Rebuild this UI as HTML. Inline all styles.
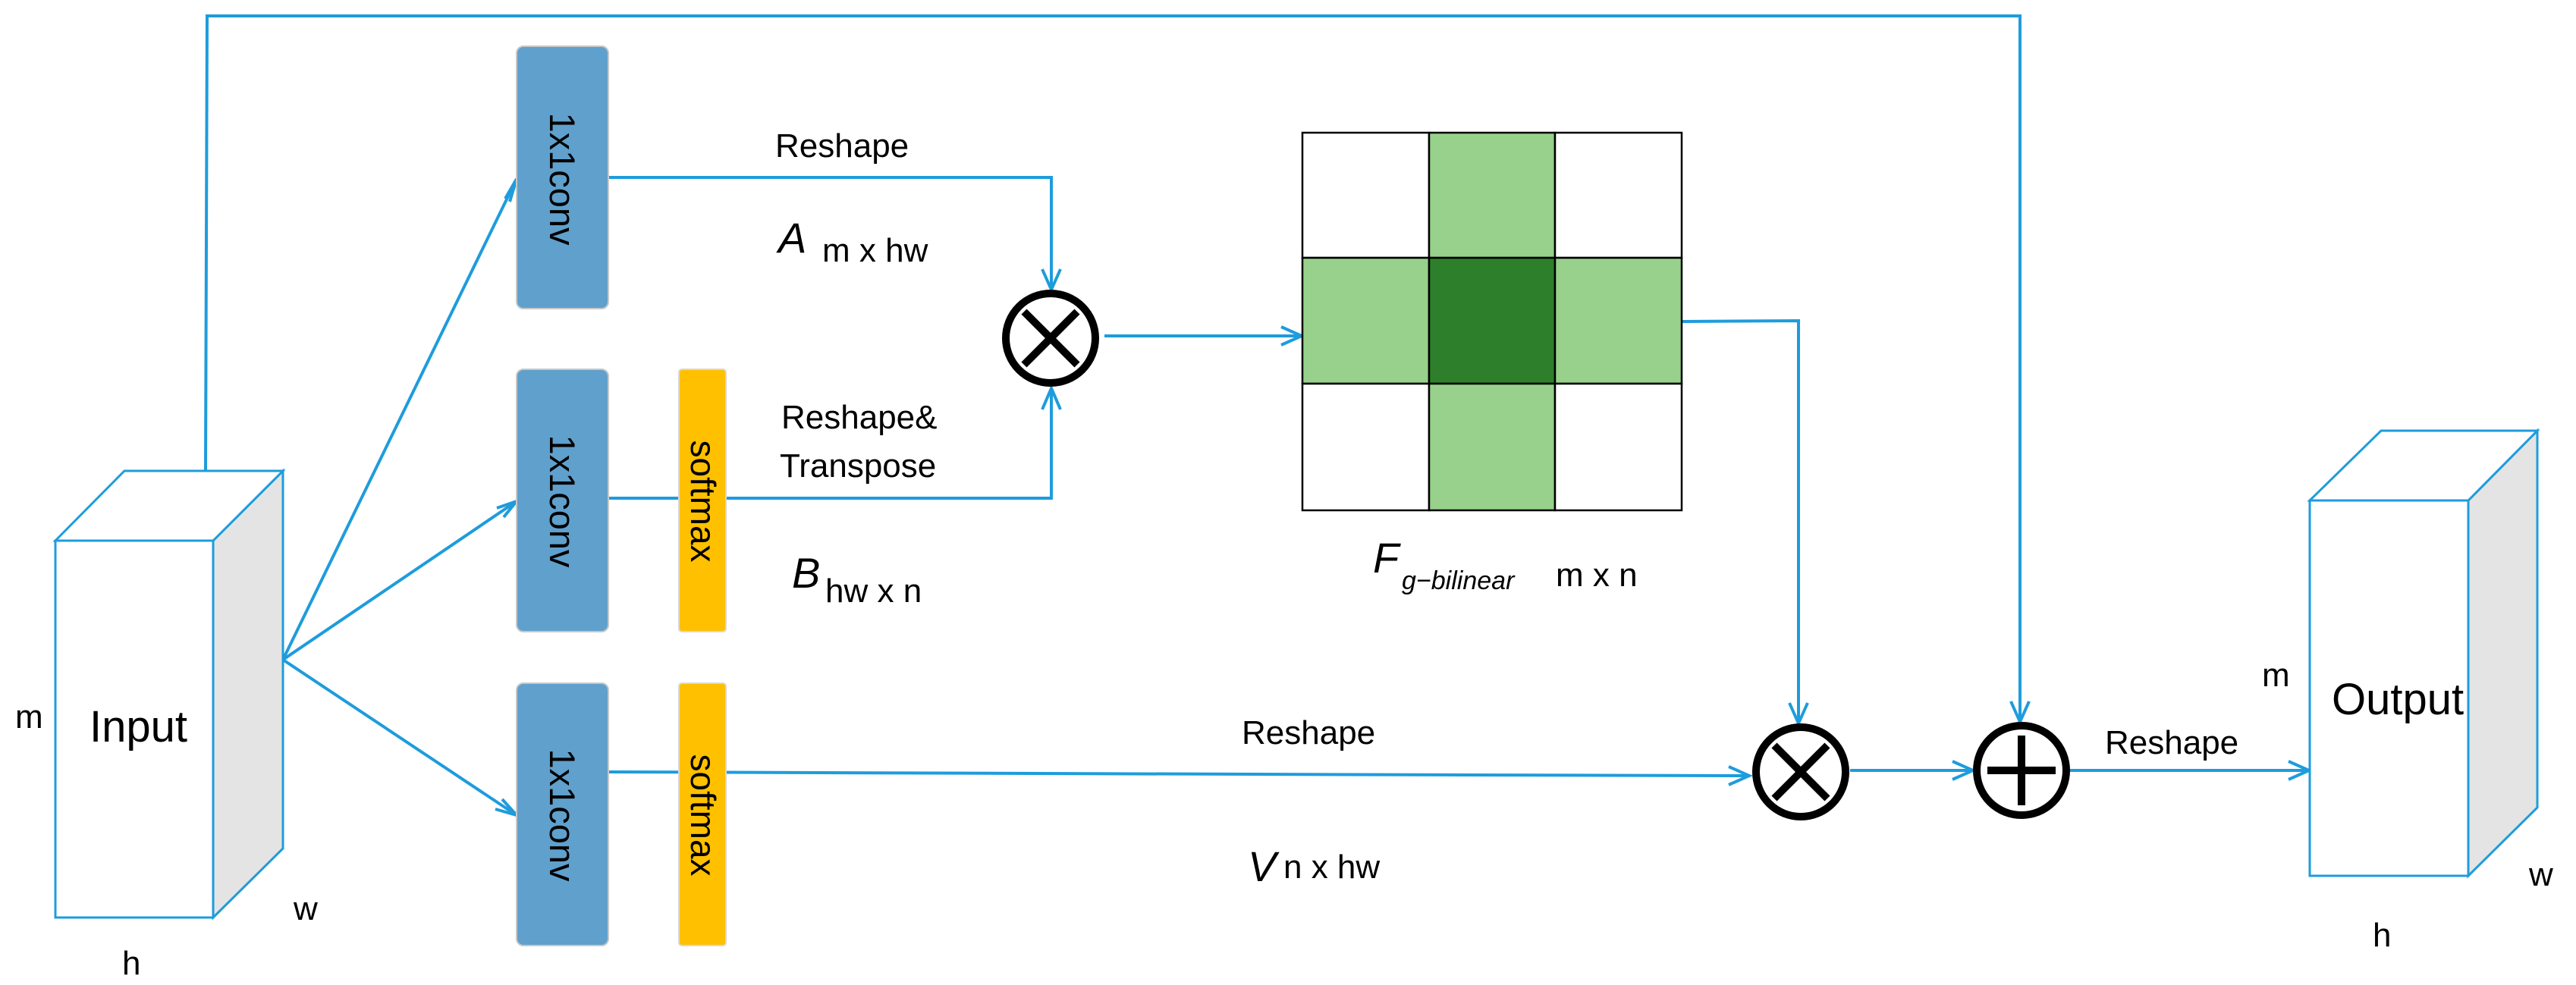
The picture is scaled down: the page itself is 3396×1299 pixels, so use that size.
<!DOCTYPE html>
<html><head><meta charset="utf-8"><style>
html,body{margin:0;padding:0;background:#fff;}
svg{display:block;}
text{font-family:"Liberation Sans",sans-serif;fill:#000;}
</style></head><body>
<svg width="3396" height="1299" viewBox="0 0 3396 1299" xmlns="http://www.w3.org/2000/svg">
<g fill="none" stroke="#1e9cdc" stroke-width="4">
  <!-- top skip line -->
  <polyline points="271,621 273,21 2663,21 2663,952"/>
  <!-- fan -->
  <line x1="373" y1="870" x2="681" y2="236"/>
  <line x1="373" y1="870" x2="681" y2="661"/>
  <line x1="373" y1="870" x2="681" y2="1075"/>
  <!-- conv1 to times -->
  <polyline points="802,234 1386,234 1386,382"/>
  <!-- conv2 to times -->
  <polyline points="802,657 1386,657 1386,512"/>
  <!-- times to grid -->
  <line x1="1456" y1="443" x2="1716" y2="443"/>
  <!-- grid to times2 -->
  <polyline points="2217,424 2371,423 2371,954"/>
  <!-- conv3 line -->
  <polyline points="802,1018 1930,1022 2306,1023"/>
  <line x1="2439" y1="1016" x2="2601" y2="1016"/>
  <line x1="2727" y1="1016" x2="3044" y2="1016"/>
  <!-- arrowheads -->
  <polyline points="666,262 681,236 672,266"/>
  <polyline points="655,670 681,661 664,682"/>
  <polyline points="662,1054 681,1075 653,1067"/>
  <polyline points="1374,355 1386,382 1398,355"/>
  <polyline points="1374,540 1386,512 1398,540"/>
  <polyline points="1689,431 1716,443 1689,455"/>
  <polyline points="2359,927 2371,954 2383,927"/>
  <polyline points="2651,925 2663,952 2675,925"/>
  <polyline points="2279,1011 2306,1023 2279,1035"/>
  <polyline points="2574,1004 2601,1016 2574,1028"/>
  <polyline points="3017,1004 3044,1016 3017,1028"/>
</g>
<!-- Input box -->
<g stroke="#1e9cdc" stroke-width="3">
  <polygon points="281,713 373,621 373,1119 281,1210" fill="#e4e4e4"/>
  <polygon points="73,713 164,621 373,621 281,713" fill="#fff"/>
  <rect x="73" y="713" width="208" height="497" fill="#fff"/>
</g>
<!-- Output box -->
<g stroke="#1e9cdc" stroke-width="3">
  <polygon points="3254,660 3345,568 3345,1065 3254,1155" fill="#e4e4e4"/>
  <polygon points="3045,660 3139,568 3345,568 3254,660" fill="#fff"/>
  <rect x="3045" y="660" width="209" height="495" fill="#fff"/>
</g>
<!-- conv boxes -->
<g fill="#5fa0cd" stroke="#c8c8c8" stroke-width="2">
  <rect x="681" y="61" width="121" height="346" rx="9"/>
  <rect x="681" y="487" width="121" height="346" rx="9"/>
  <rect x="681" y="901" width="121" height="346" rx="9"/>
</g>
<g fill="#ffc000" stroke="#d8d8d8" stroke-width="2">
  <rect x="895" y="487" width="62" height="346" rx="4"/>
  <rect x="895" y="901" width="62" height="346" rx="4"/>
</g>
<g font-size="47">
  <text transform="translate(725,236) rotate(90)" text-anchor="middle">1x1conv</text>
  <text transform="translate(725,661) rotate(90)" text-anchor="middle">1x1conv</text>
  <text transform="translate(725,1075) rotate(90)" text-anchor="middle">1x1conv</text>
  <text transform="translate(911,661) rotate(90)" text-anchor="middle" font-size="46">softmax</text>
  <text transform="translate(911,1075) rotate(90)" text-anchor="middle" font-size="46">softmax</text>
</g>
<!-- grid -->
<g stroke="#000" stroke-width="2.5">
  <rect x="1717" y="175" width="167" height="165" fill="#fff"/>
  <rect x="1884" y="175" width="166" height="165" fill="#97d18b"/>
  <rect x="2050" y="175" width="167" height="165" fill="#fff"/>
  <rect x="1717" y="340" width="167" height="166" fill="#97d18b"/>
  <rect x="1884" y="340" width="166" height="166" fill="#2e7f2b"/>
  <rect x="2050" y="340" width="167" height="166" fill="#97d18b"/>
  <rect x="1717" y="506" width="167" height="167" fill="#fff"/>
  <rect x="1884" y="506" width="166" height="167" fill="#97d18b"/>
  <rect x="2050" y="506" width="167" height="167" fill="#fff"/>
</g>
<!-- operator circles -->
<g fill="#fff" stroke="#000" stroke-width="10">
  <circle cx="1385" cy="446" r="59"/>
  <circle cx="2374" cy="1018" r="59"/>
  <circle cx="2665" cy="1016" r="59"/>
</g>
<g stroke="#000" stroke-width="10">
  <line x1="1350" y1="411" x2="1420" y2="481"/>
  <line x1="1420" y1="411" x2="1350" y2="481"/>
  <line x1="2339" y1="983" x2="2409" y2="1053"/>
  <line x1="2409" y1="983" x2="2339" y2="1053"/>
  <line x1="2620" y1="1016" x2="2710" y2="1016"/>
  <line x1="2665" y1="970" x2="2665" y2="1062"/>
</g>
<!-- labels -->
<g font-size="44">
  <text x="1022" y="207">Reshape</text>
  <text x="1030" y="565">Reshape&amp;</text>
  <text x="1028" y="629">Transpose</text>
  <text x="1637" y="981">Reshape</text>
  <text x="2775" y="994">Reshape</text>
  <text x="1084" y="345">m x hw</text>
  <text x="1088" y="794">hw x n</text>
  <text x="1692" y="1158">n x hw</text>
  <text x="2051" y="773">m x n</text>
  <text x="20" y="960">m</text>
  <text x="2982" y="905">m</text>
  <text x="387" y="1213">w</text>
  <text x="3334" y="1168">w</text>
  <text x="161" y="1285">h</text>
  <text x="3128" y="1248">h</text>
</g>
<g font-size="56" font-style="italic">
  <text x="1026" y="333">A</text>
  <text x="1044" y="775">B</text>
  <text x="1645" y="1162">V</text>
</g>
<text x="1810" y="755" font-family="Liberation Serif,serif" font-style="italic" font-size="56">F</text>
<text x="1848" y="777" font-family="Liberation Serif,serif" font-style="italic" font-size="34">g−bilinear</text>
<text x="118" y="978" font-size="58">Input</text>
<text x="3074" y="942" font-size="58">Output</text>
</svg>
</body></html>
